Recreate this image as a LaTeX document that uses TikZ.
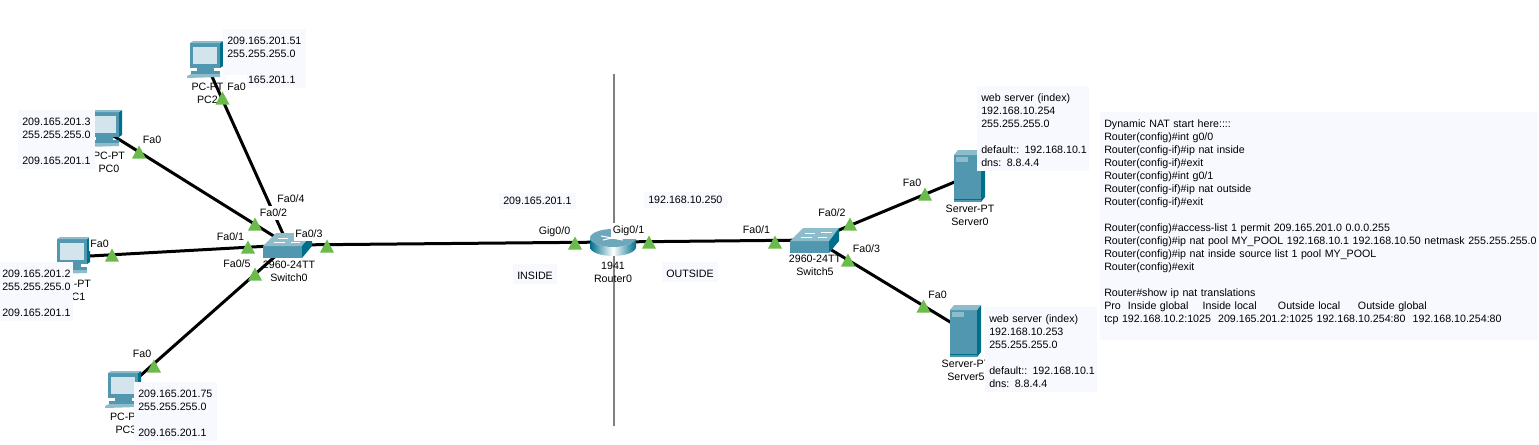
\documentclass[tikz,border=0pt]{standalone}
\usepackage{fontspec}
\setmainfont{Liberation Sans}
\definecolor{noteb}{HTML}{F7F9FF}
\definecolor{tri}{HTML}{6ABB4B}
\definecolor{teal1}{HTML}{5297B0}
\definecolor{teal2}{HTML}{006F8A}
\definecolor{teal3}{HTML}{8DBCCB}
\definecolor{screen}{HTML}{D3E4EC}
\newcommand{\smallfont}{\fontsize{8pt}{9.75pt}\selectfont}
\newcommand{\nt}{\rule{0pt}{8.5pt}}
\tikzset{x=0.75pt,y=-0.75pt,
 lnk/.style={line width=2.25pt,black},
 divider/.style={line width=1.5pt,black!50},
 lbl/.style={font=\smallfont,inner sep=0pt,align=center,text=black},
 port/.style={font=\smallfont,inner xsep=1.2pt,inner ysep=2.5pt,fill=white,text=black},
 note/.style={font=\smallfont,align=left,anchor=north west,fill=noteb,inner xsep=3pt,inner ysep=3pt,text=black,text width={#1*0.75pt-6pt}},
 lighttri/.style={fill=tri},
 pc/.pic={
  \fill[teal1] (-15,-18) rectangle (15,7);
  \fill[teal2] (15,-18) -- (18,-20) -- (18,5) -- (15,7) -- cycle;
  \fill[teal3] (-15,-18) -- (-12,-20) -- (18,-20) -- (15,-18) -- cycle;
  \fill[screen] (-12,-14) rectangle (12,3);
  \fill[teal1] (-8,7) rectangle (9,10);
  \fill[teal1] (-14,10) -- (15,10) -- (15,13) -- (-14,13) -- cycle;
  \fill[teal3] (-18,15) -- (-14,13) -- (15,13) -- (15,16) -- (-18,17) -- cycle;
 },
 server/.pic={
  \fill[teal1] (-15,-21) rectangle (12,26);
  \fill[teal2] (12,-21) -- (16,-26) -- (16,21) -- (12,26) -- cycle;
  \fill[teal3] (-15,-21) -- (-11,-26) -- (16,-26) -- (12,-21) -- cycle;
  \fill[teal3] (-13,-19) rectangle (-1,-14);
  \draw[teal2,line width=.4pt] (-15,23) -- (12,23);
 },
 switchicon/.pic={
  \fill[teal1] (-25,1) rectangle (14,13);
  \fill[teal2] (14,1) -- (24,-12) -- (24,1) -- (14,13) -- cycle;
  \fill[teal3] (-25,1) -- (-12,-12) -- (24,-12) -- (14,1) -- cycle;
  \draw[white,line width=.5pt] (-10,-7) -- (0,-7) (6,-8) -- (17,-8) (-14,-3) -- (-3,-3) (3,-3) -- (12,-3);
 },
 routericon/.pic={
  \shade[left color=teal2,right color=teal2,middle color=white] (-23,-4) arc (180:0:23 and 9) -- (23,5) arc (0:180:23 and 9) -- cycle;
  \fill[teal1!85!white] (0,-4) ellipse (23 and 9);
  \draw[white,line width=.8pt] (-12,-6) -- (10,-2) (-10,-2) -- (12,-7);
 },
}
\newcommand{\porttri}[2]{\fill[lighttri] ({#1-7},{#2+6.5}) -- (#1,{#2-6.5}) -- ({#1+7},{#2+6.5}) -- cycle;}
\begin{document}
\begin{tikzpicture}
\useasboundingbox (0,0) rectangle (1539,444);
\fill[white] (0,0) rectangle (1539,444);
% divider
\coordinate (dtop) at (613.5,74); \coordinate (dbot) at (613.5,426);
\draw[divider] (dtop) -- (dbot);
% devices
\coordinate (PC2) at (205,61);
\coordinate (PC0) at (104,130);
\coordinate (PC1) at (72,257);
\coordinate (PC3) at (123,391);
\coordinate (SW0) at (288,245);
\coordinate (R0) at (613,242);
\coordinate (SW5) at (815,240);
\coordinate (S0) at (969,176);
\coordinate (S5) at (965,331);
\draw[lnk] (PC2) -- (SW0);
\draw[lnk] (PC0) -- (SW0);
\draw[lnk] (PC1) -- (SW0);
\draw[lnk] (PC3) -- (SW0);
\draw[lnk] (SW0) -- (R0);
\draw[lnk] (R0) -- (SW5);
\draw[lnk] (SW5) -- (S0);
\draw[lnk] (SW5) -- (S5);
\pic at (PC2) {pc}; \pic at (PC0) {pc}; \pic at (PC1) {pc}; \pic at (PC3) {pc};
\pic at (SW0) {switchicon}; \pic at (SW5) {switchicon};
\pic at (R0) {routericon};
\pic at (S0) {server}; \pic at (S5) {server};
% device labels
\node[lbl] (nPC2) at (207.5,93) {PC-PT\\PC2};
\node[lbl] (nPC0) at (109,162) {PC-PT\\PC0};
\node[lbl] (nPC1) at (75,290) {PC-PT\\PC1};
\node[lbl] (nPC3) at (126,423.5) {PC-PT\\PC3};
\node[lbl] (nSW0) at (289,271.5) {2960-24TT\\Switch0};
\node[lbl] (nR0) at (613,272.5) {1941\\Router0};
\node[lbl] (nSW5) at (815,265.5) {2960-24TT\\Switch5};
\node[lbl] (nS0) at (970,215) {Server-PT\\Server0};
\node[lbl] (nS5) at (966,370) {Server-PT\\Server5};
% notes
\node[note=83] (n2) at (223,29) {\nt 209.165.201.51\\255.255.255.0\\[9.75pt]209.165.201.1};
\node[note=77] (n0) at (18,110) {\nt 209.165.201.3\\255.255.255.0\\[9.75pt]209.165.201.1};
\node[note=75] (n1) at (-2,262) {\nt 209.165.201.2\\255.255.255.0\\[9.75pt]209.165.201.1};
\node[note=83] (n3) at (134,382) {\nt 209.165.201.75\\255.255.255.0\\[9.75pt]209.165.201.1};
\node[note=77] (nA) at (499,193) {209.165.201.1};
\node[note=84] (nC) at (644,192) {192.168.10.250};
\node[note=44] (nD) at (513,264) {\nt INSIDE};
\node[note=56] (nE) at (662,262) {\nt OUTSIDE};
\node[note=112] (nS) at (977,86) {\nt web server (index)\\192.168.10.254\\255.255.255.0\\[9.75pt]\mbox{default:: 192.168.10.1}\\dns: 8.8.4.4};
\node[note=112] (nT) at (985,307) {\nt web server (index)\\192.168.10.253\\255.255.255.0\\[9.75pt]\mbox{default:: 192.168.10.1}\\dns: 8.8.4.4};
\node[note=438] (nCfg) at (1100,112) {\nt Dynamic NAT start here::::\\Router(config)\#int g0/0\\Router(config-if)\#ip nat inside\\Router(config-if)\#exit\\Router(config)\#int g0/1\\Router(config-if)\#ip nat outside\\Router(config-if)\#exit\\[9.75pt]Router(config)\#access-list 1 permit 209.165.201.0 0.0.0.255\\\mbox{Router(config)\#ip nat pool MY\_POOL 192.168.10.1 192.168.10.50 netmask 255.255.255.0}\\Router(config)\#ip nat inside source list 1 pool MY\_POOL\\Router(config)\#exit\\[9.75pt]Router\#show ip nat translations\\Pro~~Inside global~~~~Inside local~~~~~~Outside local~~~~~Outside global\\tcp 192.168.10.2:1025~~209.165.201.2:1025 192.168.10.254:80~~192.168.10.254:80\\\mbox{}};
% port labels
\node[port,anchor=base,text height=8.5pt] (p1) at (236.5,90) {Fa0};
\node[port] (p2) at (152,140) {Fa0};
\node[port] (p3) at (99.5,244) {Fa0};
\node[port] (p4) at (142,354) {Fa0};
\node[port] (p5) at (291,199) {Fa0/4};
\node[port] (p6) at (273.5,213) {Fa0/2};
\node[port] (p7) at (230.5,237) {Fa0/1};
\node[port] (p8) at (309,234) {Fa0/3};
\node[port] (p9) at (237,264) {Fa0/5};
\node[port] (p10) at (554.5,232) {Gig0/0};
\node[port] (p11) at (628.5,231) {Gig0/1};
\node[port] (p12) at (756.5,230) {Fa0/1};
\node[port] (p13) at (832,213) {Fa0/2};
\node[port] (p14) at (866.5,249) {Fa0/3};
\node[port] (p15) at (912,183) {Fa0};
\node[port] (p16) at (937.5,295) {Fa0};
% link lights
\porttri{222.5}{98} \porttri{139}{152} \porttri{112}{255} \porttri{154}{366}
\porttri{255}{224} \porttri{248}{247} \porttri{327}{246} \porttri{255}{274}
\porttri{575}{243} \porttri{649}{242} \porttri{775}{242}
\porttri{850}{224} \porttri{848}{260} \porttri{925}{194} \porttri{923.5}{306}
\end{tikzpicture}
\end{document}
